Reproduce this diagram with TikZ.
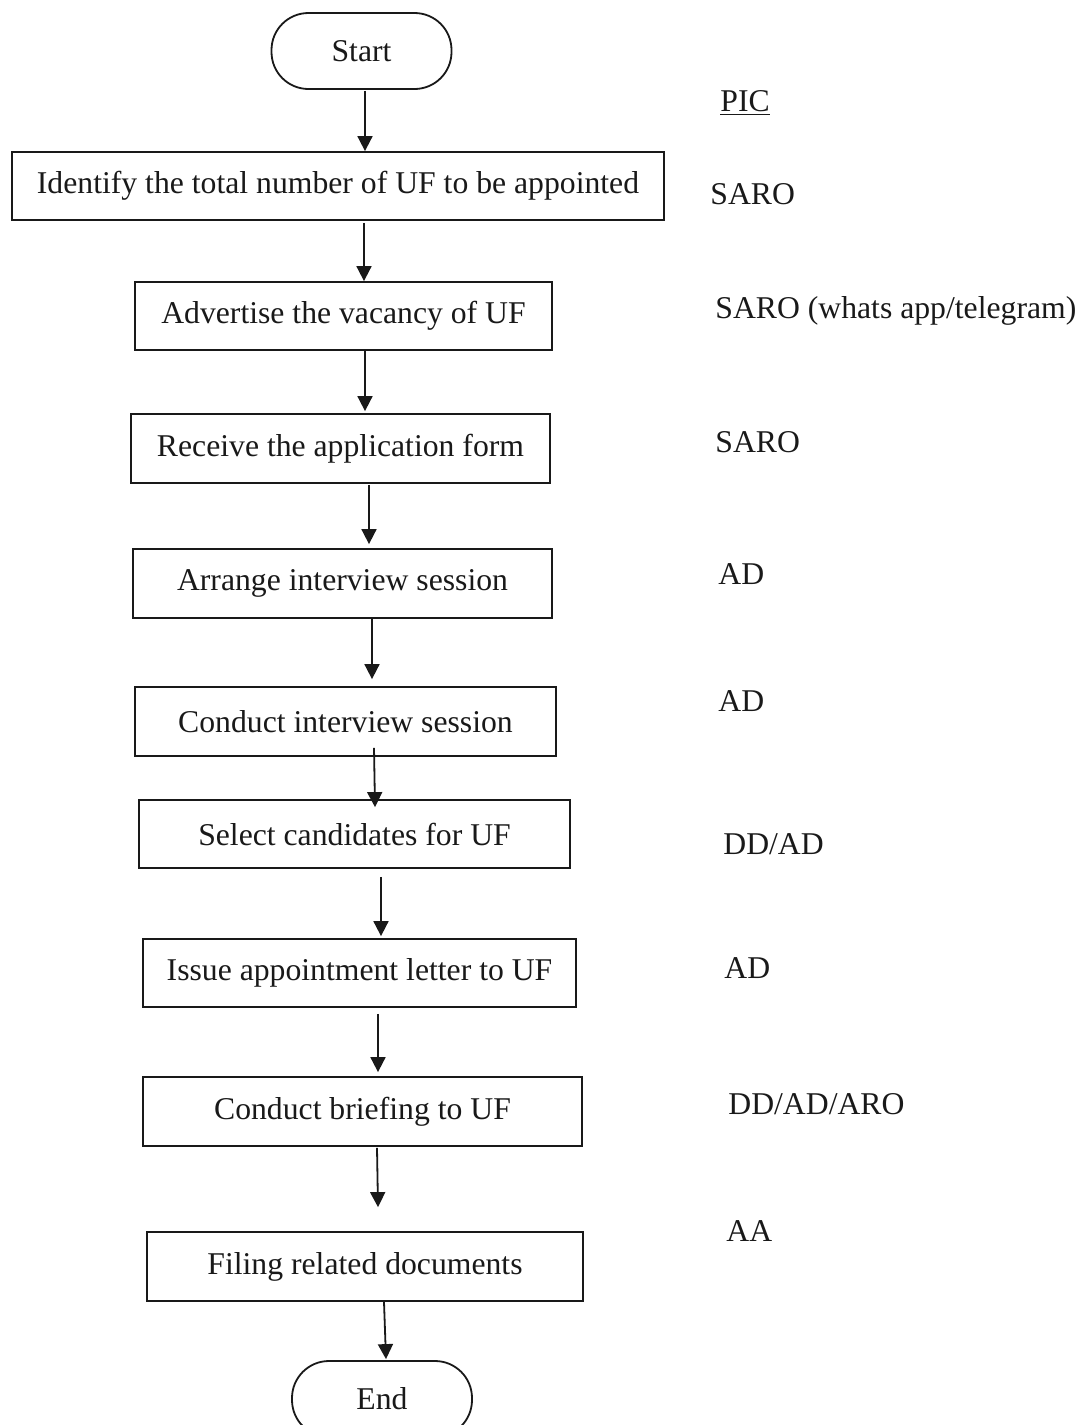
\documentclass[tikz,border=0pt]{standalone}
\usepackage{fontspec}
\setmainfont{Liberation Serif}
\usetikzlibrary{arrows.meta,calc}

\begin{document}
\begin{tikzpicture}[
  x=0.5pt, y=-0.5pt,
  every node/.style={font=\fontsize{15.85}{19}\selectfont, text=black!90},
  stepbox/.style={draw=black!90, line width=0.9pt, rectangle, inner sep=0pt},
  terminal/.style={draw=black!90, line width=0.9pt, rectangle, rounded corners=18.5pt, inner sep=0pt,
                   minimum width=90pt, minimum height=38pt},
  arr/.style={line width=0.9pt, draw=black!90, -{Triangle[length=7.5pt,width=7.5pt]}},
  pic/.style={anchor=base west, inner sep=0pt}
]
\useasboundingbox (0,0) rectangle (1084,1425);

% terminals
\node[terminal] (start) at (361.5,51) {\raisebox{-1.5pt}{Start}};
\node[terminal] (end) at (382,1399) {\raisebox{-1.5pt}{End}};

% process steps
\node[stepbox, minimum width=326pt,   minimum height=34pt]   (b1) at (338,186)    {Identify the total number of UF to be appointed};
\node[stepbox, minimum width=208.5pt, minimum height=34pt]   (b2) at (343.5,316)  {Advertise the vacancy of UF};
\node[stepbox, minimum width=209.5pt, minimum height=34.5pt] (b3) at (340.5,448.5){Receive the application form};
\node[stepbox, minimum width=209.5pt, minimum height=34.5pt] (b4) at (342.5,583.5){Arrange interview session};
\node[stepbox, minimum width=210.5pt, minimum height=34.5pt] (b5) at (345.5,721.5){Conduct interview session};
\node[stepbox, minimum width=215.5pt, minimum height=34pt]   (b6) at (354.5,834)  {Select candidates for UF};
\node[stepbox, minimum width=216.5pt, minimum height=34pt]   (b7) at (359.5,973)  {Issue appointment letter to UF};
\node[stepbox, minimum width=219.5pt, minimum height=34.5pt] (b8) at (362.5,1111.5){Conduct briefing to UF};
\node[stepbox, minimum width=218pt,   minimum height=34.5pt] (b9) at (365,1266.5) {Filing related documents};

% connectors
\draw[arr] ($(start.south)+(3.5,1)$) -- ($(b1.north)+(27,0)$);
\draw[arr] ($(b1.south)+(26,2)$)     -- ($(b2.north)+(20.5,0)$);
\draw[arr] ($(b2.south)+(21.5,0)$)   -- ($(b3.north)+(24.5,-2)$);
\draw[arr] ($(b3.south)+(28.5,1)$)   -- ($(b4.north)+(26.5,-4)$);
\draw[arr] ($(b4.south)+(29.5,0)$)   -- ($(b5.north)+(26.5,-7)$);
\draw[arr] ($(b5.south)+(28.5,-9)$)  -- ($(b6.north)+(20.5,8)$);
\draw[arr] ($(b6.south)+(26.5,8)$)   -- ($(b7.north)+(21.5,-2)$);
\draw[arr] ($(b7.south)+(18.5,6)$)   -- ($(b8.north)+(15.5,-4)$);
\draw[arr] ($(b8.south)+(14.5,1)$)   -- ($(b9.north)+(13,-24)$);
\draw[arr] ($(b9.south)+(19,0)$)     -- ($(end.north)+(4,-1)$);

% person-in-charge column
\node[pic] (pic)  at (720,111)  {\underline{PIC}};
\node[pic] (p1)   at (710,204)  {SARO};
\node[pic] (p2)   at (715,318)  {SARO (whats app/telegram)};
\node[pic] (p3)   at (715,452)  {SARO};
\node[pic] (p4)   at (718,584)  {AD};
\node[pic] (p5)   at (718,711)  {AD};
\node[pic] (p6)   at (723,854)  {DD/AD};
\node[pic] (p7)   at (724,978)  {AD};
\node[pic] (p8)   at (728,1114) {DD/AD/ARO};
\node[pic] (p9)   at (726,1241) {AA};
\end{tikzpicture}
\end{document}
